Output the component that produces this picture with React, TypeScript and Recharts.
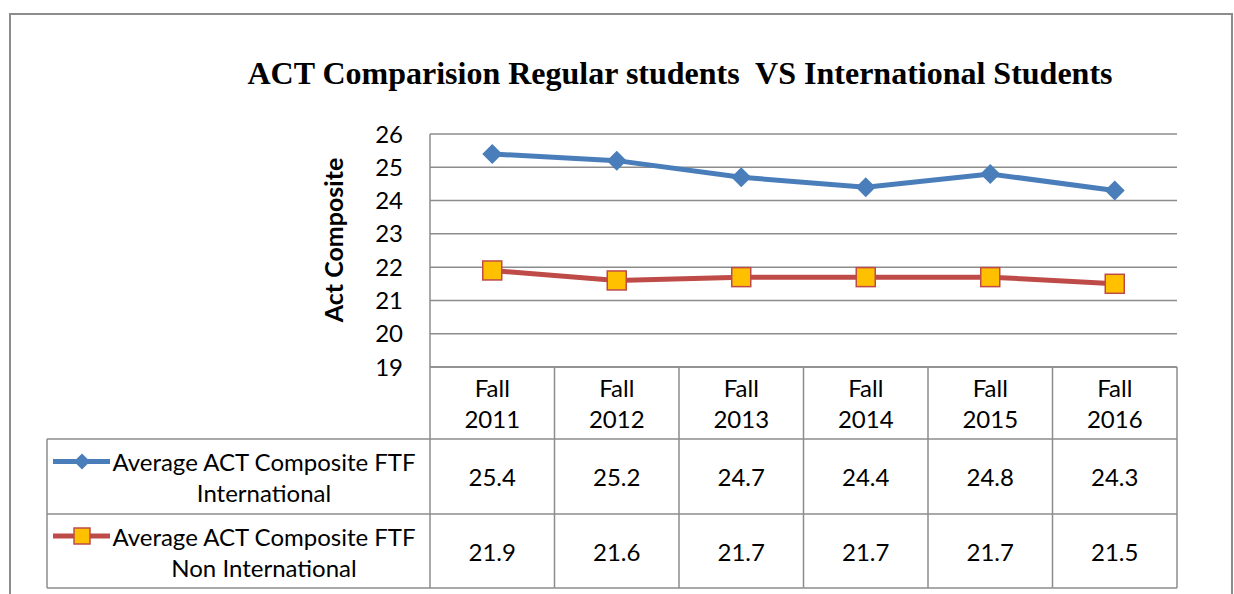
import React from 'react';
import { LineChart, Line, XAxis, YAxis, CartesianGrid } from 'recharts';

const categories = ['Fall 2011', 'Fall 2012', 'Fall 2013', 'Fall 2014', 'Fall 2015', 'Fall 2016'];
const intlAct = [25.4, 25.2, 24.7, 24.4, 24.8, 24.3];
const nonIntlAct = [21.9, 21.6, 21.7, 21.7, 21.7, 21.5];
const yTicks = [19, 20, 21, 22, 23, 24, 25, 26];
const intlLabel = ['Average ACT Composite FTF', 'International'];
const nonIntlLabel = ['Average ACT Composite FTF', 'Non International'];
const chartTitle = 'ACT Comparision Regular students\u00a0 VS International Students';
const yLabel = 'Act Composite';

const data = categories.map((name, i) => ({ name, intl: intlAct[i], nonIntl: nonIntlAct[i] }));

// layout
const W = 1234;
const H = 594;
const PLOT_LEFT = 430;
const PLOT_RIGHT = 1177;
const PLOT_TOP = 134;
const AXIS_Y = 367;
const ROW1_TOP = 439;
const ROW2_TOP = 514;
const TABLE_BOTTOM = 588;
const TABLE_LEFT = 47;
const COL_W = (PLOT_RIGHT - PLOT_LEFT) / categories.length;

const BLUE = '#4a7ebb';
const RED = '#be4b48';
const YELLOW = '#ffc000';
const GRID = '#8c8c8c';
const FONT = 'Lato, "Noto Sans", sans-serif';
const FS = 24;

const Diamond = ({ cx, cy, r = 10 }: any) => (
  <polygon points={`${cx},${cy - r} ${cx + r},${cy} ${cx},${cy + r} ${cx - r},${cy}`} fill={BLUE} />
);

const Square = ({ cx, cy, s = 19 }: any) => (
  <rect x={cx - s / 2} y={cy - s / 2} width={s} height={s} fill={YELLOW} stroke={RED} strokeWidth={1.5} />
);

const txt = { fontFamily: FONT, fontSize: FS, fill: '#000' };

const RowHeader = ({ top, bottom, lines, marker }: any) => {
  const mid = (top + bottom) / 2;
  const l1 = mid - 15;
  const l2 = mid + 16;
  return (
    <g>
      <line x1={53} y1={l1} x2={110} y2={l1} stroke={marker === 'diamond' ? BLUE : RED} strokeWidth={5} />
      {marker === 'diamond' ? <Diamond cx={82} cy={l1} r={8} /> : <Square cx={82} cy={l1} s={16} />}
      <text x={264} y={l1} textAnchor="middle" dominantBaseline="central" {...txt}>{lines[0]}</text>
      <text x={264} y={l2} textAnchor="middle" dominantBaseline="central" {...txt}>{lines[1]}</text>
    </g>
  );
};

const TableTick = (props: any) => {
  const { x, index, payload } = props;
  const left = x - COL_W / 2;
  const right = x + COL_W / 2;
  const [w1, w2] = String(payload.value).split(' ');
  const ln = { stroke: GRID, strokeWidth: 1.5 };
  return (
    <g>
      <line x1={left} y1={AXIS_Y} x2={left} y2={TABLE_BOTTOM} {...ln} />
      {index === categories.length - 1 && <line x1={right} y1={AXIS_Y} x2={right} y2={TABLE_BOTTOM} {...ln} />}
      <line x1={left} y1={ROW1_TOP} x2={right} y2={ROW1_TOP} {...ln} />
      <line x1={left} y1={ROW2_TOP} x2={right} y2={ROW2_TOP} {...ln} />
      <line x1={left} y1={TABLE_BOTTOM} x2={right} y2={TABLE_BOTTOM} {...ln} />
      <text x={x} y={387} textAnchor="middle" dominantBaseline="central" {...txt}>{w1}</text>
      <text x={x} y={418} textAnchor="middle" dominantBaseline="central" {...txt}>{w2}</text>
      <text x={x} y={(ROW1_TOP + ROW2_TOP) / 2} textAnchor="middle" dominantBaseline="central" {...txt}>
        {intlAct[index].toFixed(1)}
      </text>
      <text x={x} y={(ROW2_TOP + TABLE_BOTTOM) / 2} textAnchor="middle" dominantBaseline="central" {...txt}>
        {nonIntlAct[index].toFixed(1)}
      </text>
      {index === 0 && (
        <g>
          <line x1={TABLE_LEFT} y1={ROW1_TOP} x2={left} y2={ROW1_TOP} {...ln} />
          <line x1={TABLE_LEFT} y1={ROW2_TOP} x2={left} y2={ROW2_TOP} {...ln} />
          <line x1={TABLE_LEFT} y1={TABLE_BOTTOM} x2={left} y2={TABLE_BOTTOM} {...ln} />
          <line x1={TABLE_LEFT} y1={ROW1_TOP} x2={TABLE_LEFT} y2={TABLE_BOTTOM} {...ln} />
          <RowHeader top={ROW1_TOP} bottom={ROW2_TOP} lines={intlLabel} marker="diamond" />
          <RowHeader top={ROW2_TOP} bottom={TABLE_BOTTOM} lines={nonIntlLabel} marker="square" />
        </g>
      )}
    </g>
  );
};

export default function App() {
  return (
    <div style={{ position: 'absolute', left: 0, top: 0, width: W, height: H, background: '#fff', overflow: 'hidden' }}>
      <div
        style={{
          position: 'absolute',
          left: 9,
          top: 13,
          width: 1224,
          height: 640,
          border: `2px solid ${GRID}`,
          boxSizing: 'border-box',
        }}
      />
      <div style={{ position: 'absolute', left: 0, top: 0 }}>
        <LineChart
          width={W}
          height={H}
          data={data}
          margin={{ top: PLOT_TOP, right: W - PLOT_RIGHT, bottom: 6, left: PLOT_LEFT - 60 }}
        >
          <CartesianGrid vertical={false} stroke={GRID} strokeWidth={1.5} />
          <XAxis
            dataKey="name"
            height={H - 6 - AXIS_Y}
            padding={{ left: COL_W / 2, right: COL_W / 2 }}
            axisLine={{ stroke: GRID, strokeWidth: 1.5 }}
            tickLine={false}
            tickSize={0}
            interval={0}
            tick={<TableTick />}
          />
          <YAxis
            width={60}
            domain={[19, 26]}
            ticks={yTicks}
            interval={0}
            axisLine={{ stroke: GRID, strokeWidth: 1.5 }}
            tickLine={false}
            tickSize={0}
            tickMargin={27}
            tick={{ fontFamily: FONT, fontSize: FS, fill: '#000' }}
          />
          <Line
            type="linear"
            dataKey="intl"
            stroke={BLUE}
            strokeWidth={5}
            dot={(p: any) => <Diamond key={`d${p.index}`} cx={p.cx} cy={p.cy} />}
            activeDot={false}
            isAnimationActive={false}
          />
          <Line
            type="linear"
            dataKey="nonIntl"
            stroke={RED}
            strokeWidth={5}
            dot={(p: any) => <Square key={`s${p.index}`} cx={p.cx} cy={p.cy} />}
            activeDot={false}
            isAnimationActive={false}
          />
        </LineChart>
      </div>
      <svg width={W} height={H} style={{ position: 'absolute', left: 0, top: 0, pointerEvents: 'none' }}>
        <text
          x={680}
          y={84}
          textAnchor="middle"
          style={{ fontFamily: '"Liberation Serif", "Times New Roman", serif', fontWeight: 'bold', fontSize: 32 }}
        >
          {chartTitle}
        </text>
        <text
          x={333}
          y={240}
          textAnchor="middle"
          dominantBaseline="central"
          transform="rotate(-90, 333, 240)"
          style={{ fontFamily: FONT, fontWeight: 'bold', fontSize: 25 }}
        >
          {yLabel}
        </text>
      </svg>
    </div>
  );
}
